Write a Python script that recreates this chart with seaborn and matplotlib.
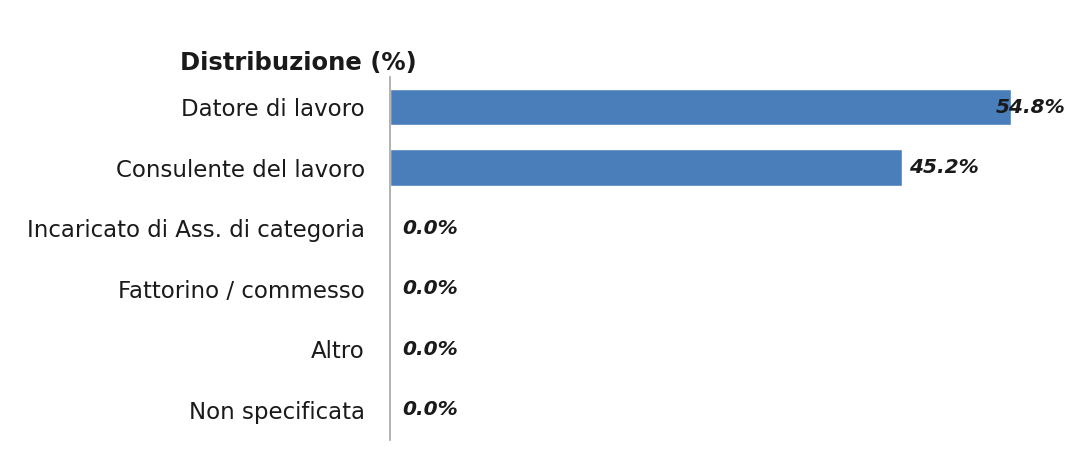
import matplotlib
matplotlib.use("Agg")
import matplotlib.pyplot as plt
import seaborn as sns
import pandas as pd

categories = [
    "Datore di lavoro",
    "Consulente del lavoro",
    "Incaricato di Ass. di categoria",
    "Fattorino / commesso",
    "Altro",
    "Non specificata",
]
values = [54.8, 45.2, 0.0, 0.0, 0.0, 0.0]
value_labels = ["54.8%", "45.2%", "0.0%", "0.0%", "0.0%", "0.0%"]
title = "Distribuzione (%)"

sns.set_theme(style="white")
plt.rcParams["font.family"] = ["DejaVu Sans"]

df = pd.DataFrame({"categoria": categories, "valore": values})

fig = plt.figure(figsize=(10.70, 4.63), dpi=100)
ax = fig.add_axes([0.3645, 0.050, 0.6355, 0.784])

sns.barplot(data=df, x="valore", y="categoria", orient="h",
            color="#4a7ebb", saturation=1, width=0.6, ax=ax)

xmax = 60
ax.set_xlim(0, xmax)
ax.set_ylim(len(categories) - 0.5, -0.5)

for i, (v, lab) in enumerate(zip(values, value_labels)):
    if v > 0.9 * xmax:
        ax.annotate(lab, xy=(xmax, i), xytext=(-3, 0), textcoords="offset points",
                    ha="right", va="center", fontsize=14.5, fontweight="bold",
                    fontstyle="italic", color="#1a1a1a")
    else:
        ax.annotate(lab, xy=(v, i), xytext=(5 if v > 0 else 9, 0),
                    textcoords="offset points", ha="left", va="center",
                    fontsize=14.5, fontweight="bold", fontstyle="italic",
                    color="#1a1a1a")

for side in ["top", "right", "bottom"]:
    ax.spines[side].set_visible(False)
ax.spines["left"].set_color("#a6a6a6")
ax.spines["left"].set_linewidth(1.2)

ax.set_xticks([])
ax.set_xlabel("")
ax.set_ylabel("")
ax.tick_params(axis="y", length=0, pad=18, labelsize=16.5, labelcolor="#1a1a1a")

fig.text(0.279, 0.838, title, ha="center", va="bottom", fontsize=17.5,
         fontweight="bold", color="#1a1a1a")

fig.savefig("out.png", dpi=100, facecolor="white")
